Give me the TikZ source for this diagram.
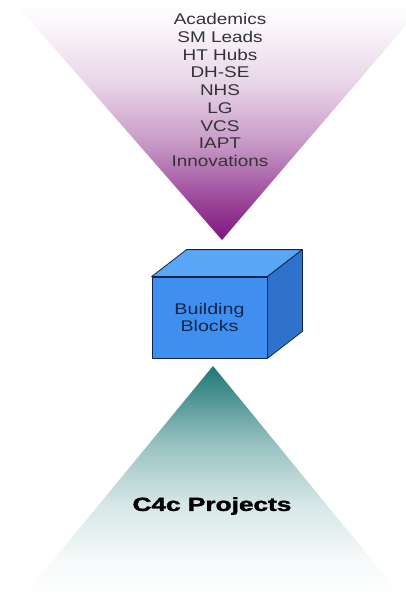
\documentclass[tikz,border=0pt]{standalone}
\usepackage{fontspec}
\setmainfont{Liberation Sans}
\newfontfamily\blackface[FakeBold=1.6]{Liberation Sans Bold}
\usepackage{tikz}
\usetikzlibrary{calc,positioning}

\definecolor{funnelpurple}{HTML}{80167F}
\definecolor{funnelteal}{HTML}{1E7877}
\definecolor{blockfront}{HTML}{3F8FF0}
\definecolor{blocktop}{HTML}{5AA6F6}
\definecolor{blockside}{HTML}{2E72CC}
\definecolor{blockedge}{HTML}{15254A}

% shadings: the path's box runs from 25bp (bottom) to 75bp (top)
\pgfdeclareverticalshading{funneldown}{100bp}{
  color(0bp)=(funnelpurple); color(25bp)=(funnelpurple);
  color(33bp)=(funnelpurple!80!white); color(45bp)=(funnelpurple!45!white);
  color(58bp)=(funnelpurple!18!white); color(70bp)=(funnelpurple!4!white);
  color(75bp)=(white); color(100bp)=(white)}
\pgfdeclareverticalshading{funnelup}{100bp}{
  color(0bp)=(white); color(25bp)=(white);
  color(33bp)=(funnelteal!4!white); color(45bp)=(funnelteal!18!white);
  color(58bp)=(funnelteal!45!white); color(68bp)=(funnelteal!78!white);
  color(75bp)=(funnelteal); color(100bp)=(funnelteal)}

\tikzset{
  every node/.append style={inner sep=0pt},
  wide/.style={font=\fontsize{15.5}{17.75}\selectfont},
  face/.style={draw=blockedge, line width=0.8pt, line join=round}
}

\begin{document}
\begin{tikzpicture}[x=1pt, y=-1pt]
\clip (0,0) rectangle (406,604);
\fill[white] (0,0) rectangle (406,604);

% upper funnel
\shade[shading=funneldown] (15,3) -- (425,3) -- (222,240) -- cycle;
\node[wide, text=black!80, align=center] (partners) at (220,90)
  {\scalebox{1.22}[1]{Academics}\\\scalebox{1.22}[1]{SM Leads}\\
   \scalebox{1.22}[1]{HT Hubs}\\\scalebox{1.22}[1]{DH-SE}\\
   \scalebox{1.22}[1]{NHS}\\\scalebox{1.22}[1]{LG}\\
   \scalebox{1.22}[1]{VCS}\\\scalebox{1.22}[1]{IAPT}\\
   \scalebox{1.22}[1]{Innovations}};

% lower funnel
\shade[shading=funnelup] (213,366) -- (402,597) -- (23,597) -- cycle;
\node[font=\fontsize{19}{22}\blackface, text=black] (projects) at (212,506)
  {\scalebox{1.38}[1]{C4c Projects}};

% the block
\node[face, fill=blockfront, minimum width=115pt, minimum height=81pt,
  wide, text=blockedge, align=center] (blocks) at (209.5,317.5)
  {\scalebox{1.27}[1]{Building}\\\scalebox{1.27}[1]{Blocks}};
\filldraw[face, fill=blocktop] (blocks.north west) -- ++(35,-27)
  -- ($(blocks.north east)+(35,-27)$) -- (blocks.north east) -- cycle;
\filldraw[face, fill=blockside] (blocks.north east) -- ++(35,-27)
  -- ($(blocks.south east)+(35,-27)$) -- (blocks.south east) -- cycle;
\end{tikzpicture}
\end{document}
